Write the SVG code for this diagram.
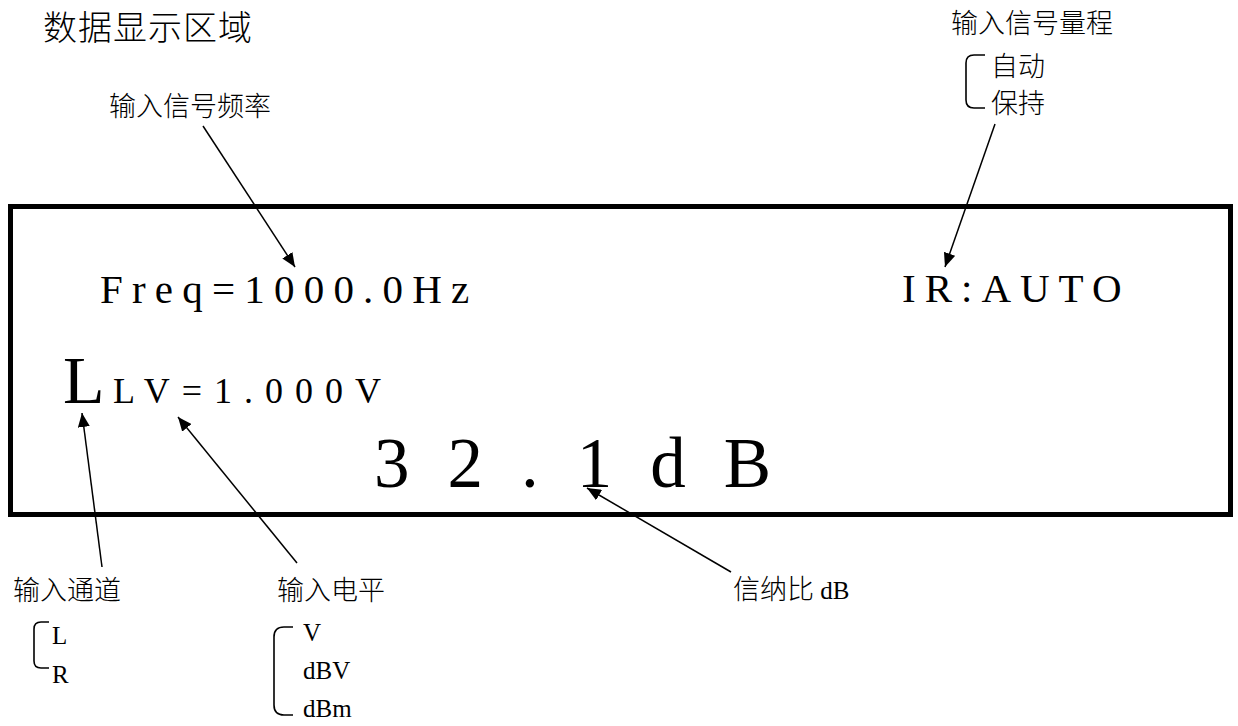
<svg xmlns="http://www.w3.org/2000/svg" width="1238" height="726" viewBox="0 0 1238 726">
<style>
.cn{font-family:"Noto Sans CJK SC","Noto Sans",sans-serif;font-weight:300;fill:#000}
.lat{font-family:"Liberation Serif","Times New Roman",serif;fill:#000}
.ln{stroke:#000;stroke-width:1.5;fill:none}
.br{stroke:#000;stroke-width:1.6;fill:none}
</style>
<defs>
<marker id="ah" markerUnits="userSpaceOnUse" markerWidth="16" markerHeight="12" refX="14" refY="6" orient="auto">
<path d="M0,0 L14,6 L0,12 Z" fill="#000"/>
</marker>
</defs>
<rect width="1238" height="726" fill="#fff"/>
<g id="title"><text class="cn" x="43" y="40" font-size="34" letter-spacing="1">数据显示区域</text></g>
<g id="display">
<rect x="10.5" y="206.5" width="1220" height="308" fill="none" stroke="#000" stroke-width="5"/>
<text class="lat" x="100" y="303" font-size="41" letter-spacing="9.2">Freq=1000.0Hz</text>
<text class="lat" x="902" y="302" font-size="41" letter-spacing="9">IR:AUTO</text>
<text class="lat" x="63" y="403" font-size="68">L</text>
<text class="lat" x="113" y="403" font-size="36" letter-spacing="12">LV=1.000V</text>
<text class="lat" x="374" y="487" font-size="71" letter-spacing="38">32.1dB</text>
</g>
<g id="label-freq"><text class="cn" x="109" y="116" font-size="27">输入信号频率</text></g>
<g id="label-range">
<text class="cn" x="951" y="33" font-size="27">输入信号量程</text>
<text class="cn" x="991" y="76" font-size="27">自动</text>
<text class="cn" x="991" y="113" font-size="27">保持</text>
<path class="br" d="M985,55 L974,55 Q966,55 966,63 L966,100 Q966,108 974,108 L985,108"/>
</g>
<g id="label-channel">
<text class="cn" x="13" y="600" font-size="27">输入通道</text>
<text class="lat" x="52" y="644" font-size="25">L</text>
<text class="lat" x="52" y="683" font-size="25">R</text>
<path class="br" d="M49,622 L41,622 Q34,622 34,629 L34,661 Q34,668 41,668 L49,668"/>
</g>
<g id="label-level">
<text class="cn" x="277" y="600" font-size="27">输入电平</text>
<text class="lat" x="303" y="641" font-size="25">V</text>
<text class="lat" x="303" y="679" font-size="25">dBV</text>
<text class="lat" x="303" y="717" font-size="25">dBm</text>
<path class="br" d="M293,627 L284,627 Q274,627 274,637 L274,705 Q274,715 284,715 L293,715"/>
</g>
<g id="label-snr">
<text x="733" y="599"><tspan class="cn" font-size="27">信纳比</tspan><tspan class="lat" font-size="25"> dB</tspan></text>
</g>
<g id="connectors">
<line class="ln" x1="203" y1="126" x2="295" y2="267" marker-end="url(#ah)"/>
<line class="ln" x1="995" y1="124" x2="945" y2="267" marker-end="url(#ah)"/>
<line class="ln" x1="102" y1="567" x2="82" y2="413" marker-end="url(#ah)"/>
<line class="ln" x1="297" y1="563" x2="178" y2="417" marker-end="url(#ah)"/>
<line class="ln" x1="731" y1="572" x2="587" y2="488" marker-end="url(#ah)"/>
</g>
</svg>
